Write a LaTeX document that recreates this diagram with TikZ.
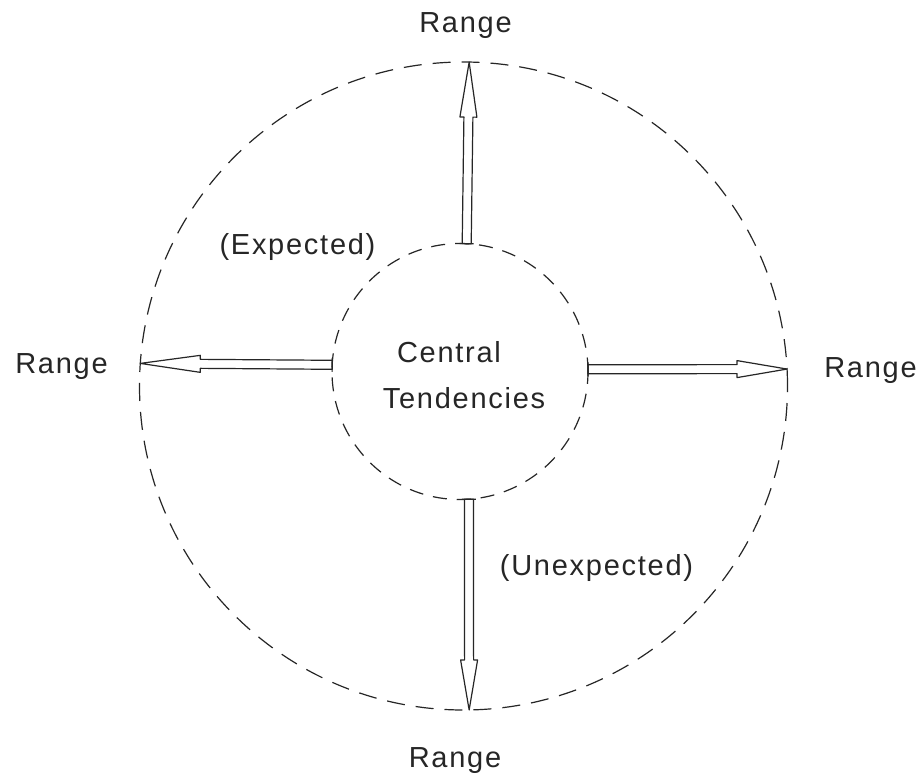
\documentclass[tikz,border=0pt]{standalone}
\usepackage{fontspec}
\setmainfont{Liberation Sans}[LetterSpace=6]
\usetikzlibrary{calc}
\tikzset{
  ring/.style={circle, draw=black!85, line width=1.2pt, inner sep=0pt, outer sep=0pt},
  arrowline/.style={draw=black!85, line width=1.2pt, line join=round},
  lbl/.style={inner sep=0pt, anchor=base, text=black!85, font=\fontsize{29}{34}\selectfont}
}
\newcommand\hollowarrow[3]{%
  \path ($(#2)!#3!(#1)$) coordinate (hb);
  \draw[arrowline] ($(#1)!4.5pt!90:(#2)$) -- ($(hb)!4.5pt!-90:(#1)$) -- ($(hb)!8.5pt!-90:(#1)$)
     -- (#2) -- ($(hb)!8.5pt!90:(#1)$) -- ($(hb)!4.5pt!90:(#1)$) -- ($(#1)!4.5pt!-90:(#2)$) -- cycle;
  \draw[arrowline] ($(#1)!7pt!90:(#2)$) -- ($(#1)!7pt!-90:(#2)$);
}
\begin{document}
\begin{tikzpicture}[x=1pt,y=-1pt]
\useasboundingbox[fill=white] (0,0) rectangle (924,776);
\node[ring, minimum size=648pt, dash pattern=on 18pt off 11pt] (outer) at (463.5,386) {};
\node[ring, minimum size=256pt, dash pattern=on 14pt off 10pt] (inner) at (460,371.5) {};
\hollowarrow{inner.87.31}{outer.89.56}{55pt}
\hollowarrow{inner.177.54}{outer.176.46}{60pt}
\hollowarrow{inner.1.57}{outer.3.18}{50pt}
\hollowarrow{inner.-86.86}{outer.-89.38}{50pt}
\node[lbl] (ctop) at (449,362) {Central};
\node[lbl] (cbot) at (464,408) {Tendencies};
\node[lbl] (rtop) at (465.5,33) {Range};
\node[lbl] (rleft) at (61.5,373.5) {Range};
\node[lbl] (rright) at (870.5,377) {Range};
\node[lbl] (rbot) at (455,767) {Range};
\node[lbl] (exp) at (297.5,254) {(Expected)};
\node[lbl] (unexp) at (596.5,575) {(Unexpected)};
\end{tikzpicture}
\end{document}
